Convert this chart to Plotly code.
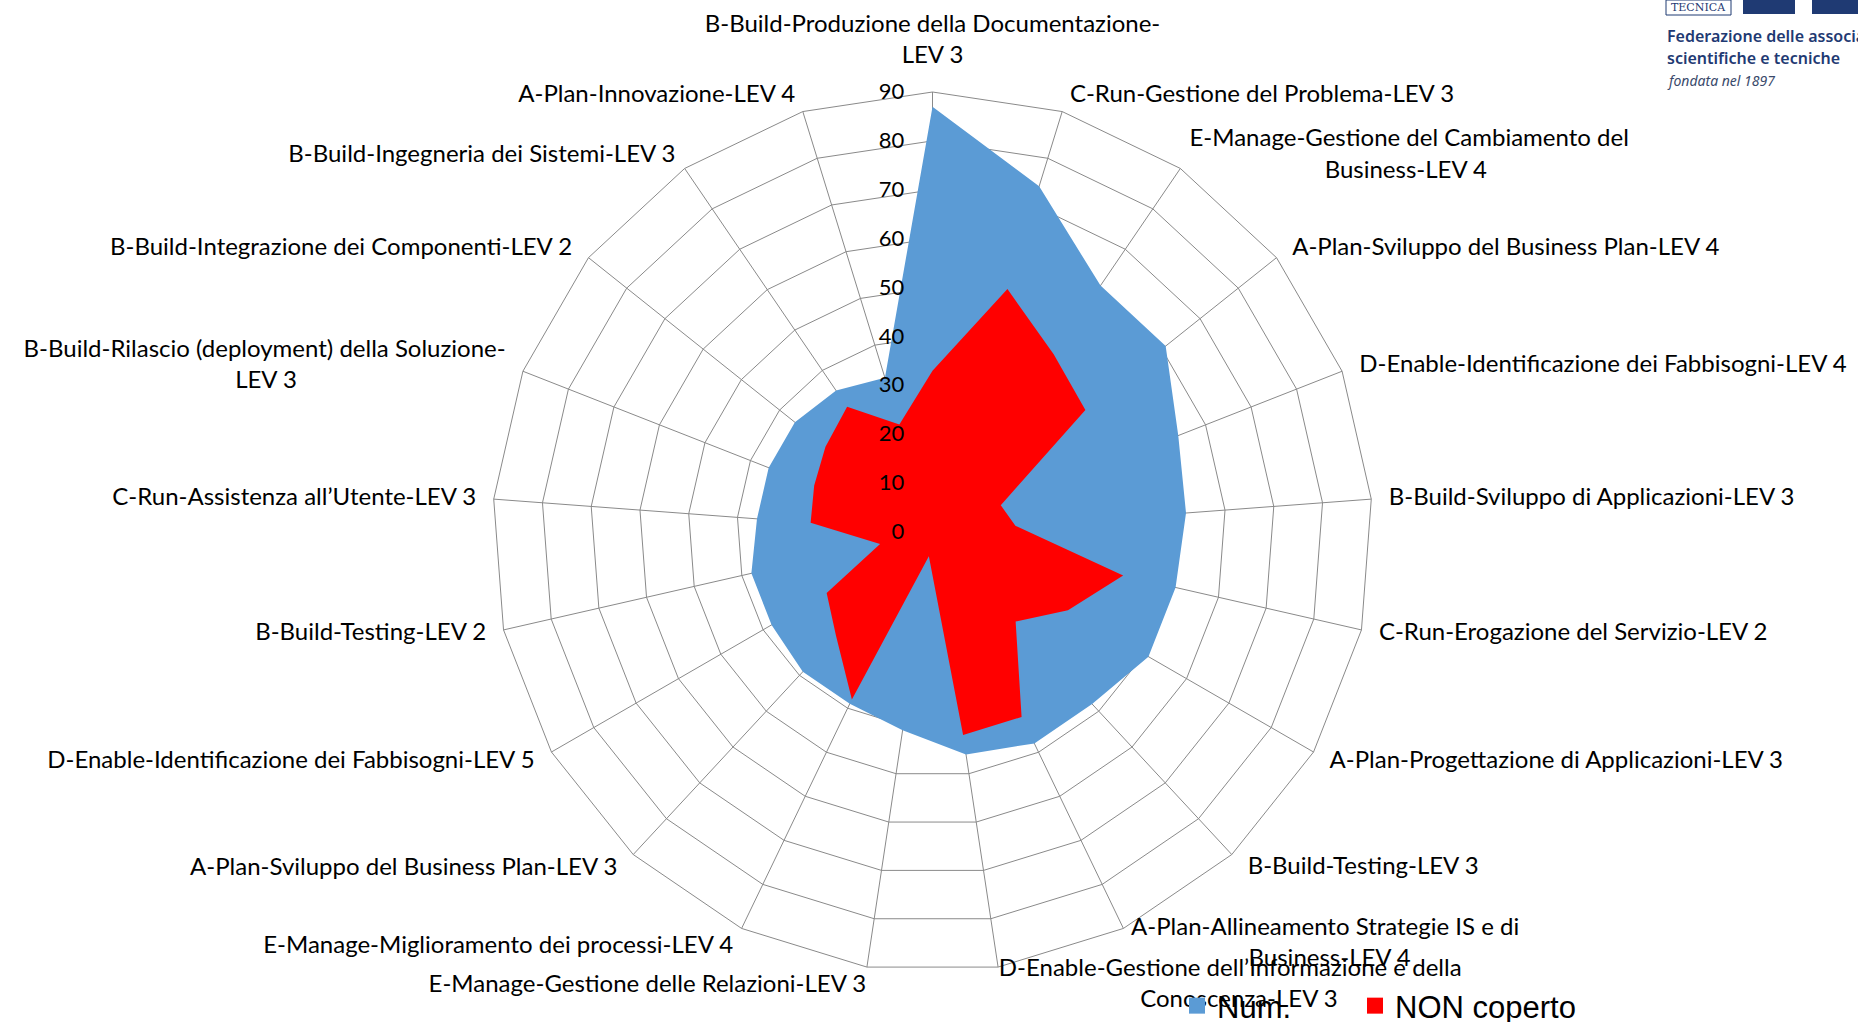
import math
import plotly.graph_objects as go

categories = [
    "B-Build-Produzione della Documentazione-LEV 3",
    "C-Run-Gestione del Problema-LEV 3",
    "E-Manage-Gestione del Cambiamento del Business-LEV 4",
    "A-Plan-Sviluppo del Business Plan-LEV 4",
    "D-Enable-Identificazione dei Fabbisogni-LEV 4",
    "B-Build-Sviluppo di Applicazioni-LEV 3",
    "C-Run-Erogazione del Servizio-LEV 2",
    "A-Plan-Progettazione di Applicazioni-LEV 3",
    "B-Build-Testing-LEV 3",
    "A-Plan-Allineamento Strategie IS e di Business-LEV 4",
    "D-Enable-Gestione dell’Informazione e della Conoscenza-LEV 3",
    "E-Manage-Gestione delle Relazioni-LEV 3",
    "E-Manage-Miglioramento dei processi-LEV 4",
    "A-Plan-Sviluppo del Business Plan-LEV 3",
    "D-Enable-Identificazione dei Fabbisogni-LEV 5",
    "B-Build-Testing-LEV 2",
    "C-Run-Assistenza all’Utente-LEV 3",
    "B-Build-Rilascio (deployment) della Soluzione-LEV 3",
    "B-Build-Integrazione dei Componenti-LEV 2",
    "B-Build-Ingegneria dei Sistemi-LEV 3",
    "A-Plan-Innovazione-LEV 4",
]

num_values = [87, 74, 61, 61, 54, 52, 51, 51, 48, 48, 46, 41, 39, 39, 38, 38, 36, 36, 36, 35, 33]
non_coperto_values = [33, 52, 44, 40, 15, 17, 40, 32, 25, 42, 42, 5, 38, 29, 25, 11, 25, 26, 28, 31, 23]

series_names = ["Num.", "NON coperto"]
radial_ticks = [0, 10, 20, 30, 40, 50, 60, 70, 80, 90]

# label wrapping as in the original (first line, second line)
wraps = {
    0: ("B-Build-Produzione della Documentazione-", "LEV 3"),
    2: ("E-Manage-Gestione del Cambiamento del", "Business-LEV 4"),
    9: ("A-Plan-Allineamento Strategie IS e di", "Business-LEV 4"),
    10: ("D-Enable-Gestione dell’Informazione e della", "Conoscenza-LEV 3"),
    17: ("B-Build-Rilascio (deployment) della Soluzione-", "LEV 3"),
}
# styling of the category labels: non-breaking-space padding that centres the
# second line, and a small vertical nudge (px, positive = up) per label
center_pad = {0: 0, 2: 22, 9: 19, 10: 23, 17: 34}
label_nudge = [-12, 2, -10, 3, 3, 2, 5, 6, 8, 22, 21, 5, 5, 7, 6, 5, 2, -3, 3, 3, 2]

NB = "\u00a0"
n = len(categories)
ticktext = []
for i, cat in enumerate(categories):
    ang = 360.0 * i / n
    s = math.sin(math.radians(ang))
    k = int(round(abs(s) * 11 / 4.6))
    right = s > 0.05
    left = s < -0.05
    lines = list(wraps[i]) if i in wraps else [cat]
    if i in wraps and center_pad[i]:
        if right:
            lines[1] = NB * center_pad[i] + lines[1]
        elif left:
            lines[1] = lines[1] + NB * center_pad[i]
    if right:
        lines = [NB * k + ln for ln in lines]
    elif left:
        lines = [ln + NB * k for ln in lines]
    if i == 0:
        lines.append(NB)
    lines = ["<span style='baseline-shift:%dpx'>%s</span>" % (label_nudge[i], ln) for ln in lines]
    ticktext.append("<br>".join(lines))

W, H = 1858, 1022
cx, cy, R = 932.5, 532.0, 440.0
GRID = "#8A8A8A"

fig = go.Figure()
fig.add_trace(go.Scatterpolar(
    r=num_values + [num_values[0]],
    theta=categories + [categories[0]],
    mode="lines", fill="toself", fillcolor="#5B9BD5",
    line=dict(color="#5B9BD5", width=0),
    name=series_names[0], showlegend=False,
))
fig.add_trace(go.Scatterpolar(
    r=non_coperto_values + [non_coperto_values[0]],
    theta=categories + [categories[0]],
    mode="lines", fill="toself", fillcolor="#FF0000",
    line=dict(color="#FF0000", width=0),
    name=series_names[1], showlegend=False,
))
# legend entries (square swatches as in the original)
for nm, col, lw in zip(series_names, ["#5B9BD5", "#FF0000"], [133, None]):
    fig.add_trace(go.Scatterpolar(
        r=[None], theta=[None], mode="markers", name=nm,
        marker=dict(symbol="square", size=16, color=col), showlegend=True,
        legendwidth=lw,
    ))

fig.update_layout(
    width=W, height=H,
    margin=dict(l=0, r=0, t=0, b=0, autoexpand=False),
    paper_bgcolor="white",
    plot_bgcolor="white",
    font=dict(family="Lato, sans-serif", color="black", size=24),
    polar=dict(
        domain=dict(x=[(cx - R) / W, (cx + R) / W], y=[1 - (cy + R) / H, 1 - (cy - R) / H]),
        bgcolor="rgba(0,0,0,0)",
        gridshape="linear",
        angularaxis=dict(
            direction="clockwise", rotation=90, type="category",
            categoryorder="array", categoryarray=categories,
            tickmode="array", tickvals=categories, ticktext=ticktext,
            showline=True, linecolor=GRID, linewidth=1,
            gridcolor=GRID, gridwidth=1, ticks="",
            tickfont=dict(size=24, color="black", family="Lato, sans-serif"),
            layer="above traces",
        ),
        radialaxis=dict(
            range=[0, 90], tickvals=radial_ticks, angle=90, side="counterclockwise",
            showline=False, gridcolor=GRID, gridwidth=1,
            ticks="outside", ticklen=20, tickcolor="rgba(0,0,0,0)",
            tickfont=dict(size=22, color="black", family="Lato, sans-serif"),
            tickangle=90,
            layer="above traces",
        ),
    ),
    showlegend=True,
    legend=dict(
        orientation="h", x=1177 / W, y=-11 / H, xanchor="left", yanchor="bottom",
        font=dict(family="Liberation Sans, Arial, sans-serif", size=31, color="black"),
        bgcolor="rgba(0,0,0,0)", itemwidth=30, itemsizing="trace",
    ),
)

# logo text (top right)
LOGO = "#1F3A73"
fig.add_annotation(x=1665 / W, y=1 - 36 / H, xref="paper", yref="paper", xanchor="left", yanchor="middle",
                   text="Federazione delle associazioni", showarrow=False,
                   font=dict(family="Noto Sans, sans-serif", size=16, color=LOGO, weight=600))
fig.add_annotation(x=1665 / W, y=1 - 58 / H, xref="paper", yref="paper", xanchor="left", yanchor="middle",
                   text="scientifiche e tecniche", showarrow=False,
                   font=dict(family="Noto Sans, sans-serif", size=16, color=LOGO, weight=600))
fig.add_annotation(x=1665 / W, y=1 - 80 / H, xref="paper", yref="paper", xanchor="left", yanchor="middle",
                   text="<i>fondata nel 1897</i>", showarrow=False,
                   font=dict(family="Noto Sans, sans-serif", size=14, color="#3A4A6B"))
fig.add_annotation(x=1698 / W, y=1 - 7 / H, xref="paper", yref="paper", xanchor="center", yanchor="middle",
                   text="TECNICA", showarrow=False,
                   font=dict(family="DejaVu Serif, serif", size=11, color=LOGO))
fig.add_shape(type="rect", xref="paper", yref="paper", x0=1666 / W, x1=1731 / W, y0=1 - 15 / H, y1=1.0,
              fillcolor="rgba(0,0,0,0)", line=dict(width=1, color=LOGO))
fig.add_shape(type="rect", xref="paper", yref="paper", x0=1743 / W, x1=1795 / W, y0=1 - 14 / H, y1=1.0,
              fillcolor=LOGO, line=dict(width=0))
fig.add_shape(type="rect", xref="paper", yref="paper", x0=1812 / W, x1=1858 / W, y0=1 - 14 / H, y1=1.0,
              fillcolor=LOGO, line=dict(width=0))

fig.write_html(
    "out.html",
    config={"displayModeBar": False},
    post_script="document.body.style.margin='0';document.body.style.overflow='hidden';",
)
